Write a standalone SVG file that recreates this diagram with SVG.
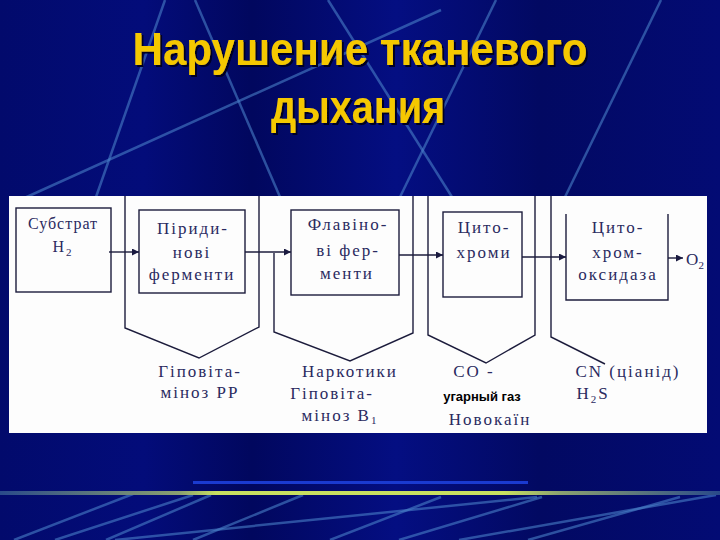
<svg xmlns="http://www.w3.org/2000/svg" width="720" height="540" viewBox="0 0 720 540">
<defs>
<linearGradient id="bg" x1="0" y1="0" x2="1" y2="0">
<stop offset="0" stop-color="#020a6c"/>
<stop offset="0.2" stop-color="#030c7a"/>
<stop offset="0.35" stop-color="#01075e"/>
<stop offset="0.55" stop-color="#040e82"/>
<stop offset="0.75" stop-color="#020962"/>
<stop offset="1" stop-color="#030b74"/>
</linearGradient>
<linearGradient id="sep" x1="0" y1="0" x2="1" y2="0">
<stop offset="0" stop-color="#2a4a8a"/>
<stop offset="0.25" stop-color="#8aa070"/>
<stop offset="0.3" stop-color="#c8e060"/>
<stop offset="0.7" stop-color="#c8e060"/>
<stop offset="0.78" stop-color="#8aa070"/>
<stop offset="1" stop-color="#2a4a8a"/>
</linearGradient>
<filter id="shadow" x="-5%" y="-20%" width="110%" height="140%">
<feDropShadow dx="2" dy="2" stdDeviation="0.6" flood-color="#000022" flood-opacity="1"/>
</filter>
<marker id="ah" viewBox="0 0 10 10" refX="10" refY="5" markerWidth="10" markerHeight="7" markerUnits="userSpaceOnUse" orient="auto">
<path d="M0,0 L10,5 L0,10 z" fill="#1a1a40"/>
</marker>
<style>
.deco{stroke:#4a80c8;stroke-width:2.5;stroke-opacity:0.6;fill:none}
.box{fill:none;stroke:#1c1c3c;stroke-width:1.4}
.ln{fill:none;stroke:#1c1c3c;stroke-width:1.4}
.t{font-family:"Liberation Serif","Times New Roman",serif;font-size:17px;fill:#2a2a60;letter-spacing:2px;text-anchor:middle}
.title{font-family:"Liberation Sans",Arial,sans-serif;font-size:46px;font-weight:bold;text-anchor:middle;fill:#f5c800}
</style>
</defs>
<rect width="720" height="540" fill="url(#bg)"/>
<g id="background-lines">
<line class="deco" x1="165" y1="0" x2="96" y2="197"/>
<line class="deco" x1="195" y1="0" x2="280" y2="197"/>
<line class="deco" x1="441" y1="10" x2="20" y2="200"/>
<line class="deco" x1="328" y1="0" x2="452" y2="197"/>
<line class="deco" x1="496" y1="0" x2="400" y2="197"/>
<line class="deco" x1="661" y1="0" x2="565" y2="197"/>
<line class="deco" x1="14" y1="540" x2="133" y2="494"/>
<line class="deco" x1="106" y1="540" x2="211" y2="495"/>
<line class="deco" x1="55" y1="540" x2="193" y2="495"/>
<line class="deco" x1="193" y1="540" x2="303" y2="495"/>
<line class="deco" x1="115" y1="540" x2="537" y2="497"/>
<line class="deco" x1="330" y1="540" x2="441" y2="497"/>
<line class="deco" x1="399" y1="540" x2="542" y2="497"/>
<line class="deco" x1="459" y1="540" x2="716" y2="495"/>
<line class="deco" x1="528" y1="540" x2="680" y2="497"/>
</g>
<rect x="193" y="481" width="335" height="3" fill="#1a3ad0"/>
<rect x="0" y="491" width="720" height="4" fill="url(#sep)"/>
<g id="title" filter="url(#shadow)">
<text class="title" x="360" y="65" textLength="455" lengthAdjust="spacingAndGlyphs">Нарушение тканевого</text>
<text class="title" x="358" y="123" textLength="174" lengthAdjust="spacingAndGlyphs">дыхания</text>
</g>
<rect id="panel" x="9" y="196" width="698" height="237" fill="#fdfdfd"/>
<g id="inhibitor-brackets">
<polyline class="ln" points="125,196 125,328 199,358 259,327 259,196"/>
<polyline class="ln" points="274,253 274,332 350,361 413,333 413,196"/>
<polyline class="ln" points="428,196 428,335 486,363 535,335 535,196"/>
<polyline class="ln" points="551,196 551,337 605,364"/>
</g>
<g id="node-substrate">
<rect class="box" x="16" y="208" width="95" height="84"/>
<text class="t" x="63" y="229" style="font-size:16px;letter-spacing:1px">Субстрат</text>
<text class="t" x="63" y="252" style="font-size:16px">H<tspan font-size="11" dy="4">2</tspan></text>
</g>
<g id="node-pyridine">
<rect class="box" x="139" y="210" width="106" height="83"/>
<text class="t" x="193" y="234">Піриди-</text>
<text class="t" x="192" y="258">нові</text>
<text class="t" x="192" y="280">ферменти</text>
</g>
<g id="node-flavin">
<rect class="box" x="291" y="210" width="108" height="85"/>
<text class="t" x="348" y="230">Флавіно-</text>
<text class="t" x="348" y="256">ві фер-</text>
<text class="t" x="347" y="279">менти</text>
</g>
<g id="node-cytochromes">
<rect class="box" x="443" y="212" width="79" height="85"/>
<text class="t" x="484" y="233">Цито-</text>
<text class="t" x="484" y="258">хроми</text>
</g>
<g id="node-cytochrome-oxidase">
<polyline class="box" points="566,214 566,300 668,300 668,214"/>
<text class="t" x="618" y="233">Цито-</text>
<text class="t" x="618" y="258">хром-</text>
<text class="t" x="618" y="280">оксидаза</text>
</g>
<g id="node-o2">
<text class="t" x="695" y="265" style="letter-spacing:0">O<tspan font-size="11" dy="4">2</tspan></text>
</g>
<g id="connectors">
<line class="ln" x1="109" y1="252" x2="139" y2="252" marker-end="url(#ah)"/>
<line class="ln" x1="245" y1="252" x2="291" y2="252" marker-end="url(#ah)"/>
<line class="ln" x1="399" y1="255" x2="443" y2="255" marker-end="url(#ah)"/>
<line class="ln" x1="522" y1="257" x2="566" y2="257" marker-end="url(#ah)"/>
<line class="ln" x1="668" y1="258" x2="683" y2="258" marker-end="url(#ah)"/>
</g>
<g id="label-pp">
<text class="t" x="200" y="377">Гіповіта-</text>
<text class="t" x="200" y="398">міноз PP</text>
</g>
<g id="label-narcotics">
<text class="t" x="350" y="377">Наркотики</text>
<text class="t" x="332" y="399">Гіповіта-</text>
<text class="t" x="340" y="421">міноз B<tspan font-size="11" dy="3">1</tspan></text>
</g>
<g id="label-co">
<text class="t" x="474" y="377">CO  -</text>
<text x="482" y="401" font-family="'Liberation Sans',Arial,sans-serif" font-size="13" font-weight="bold" fill="#000" text-anchor="middle">угарный газ</text>
<text class="t" x="490" y="425">Новокаїн</text>
</g>
<g id="label-cn">
<text class="t" x="628" y="377">CN (ціанід)</text>
<text class="t" x="593" y="399">H<tspan font-size="11" dy="4">2</tspan><tspan dy="-4">S</tspan></text>
</g>
</svg>
